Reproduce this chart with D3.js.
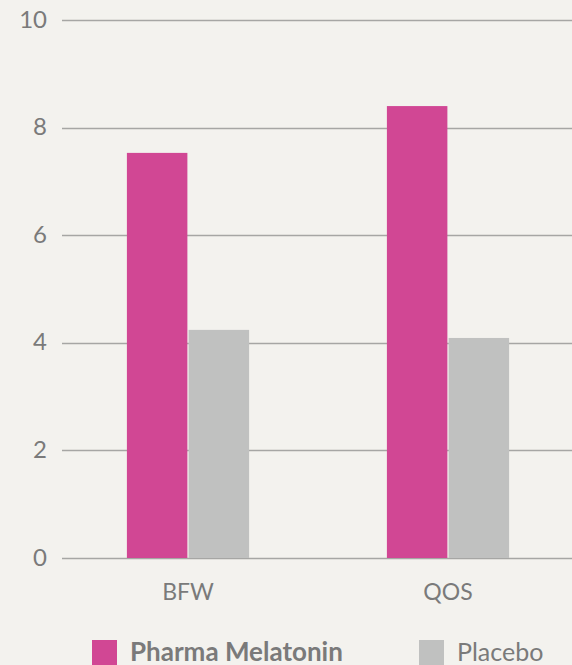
<!DOCTYPE html>
<html>
<head>
<meta charset="utf-8">
<script src="https://cdn.jsdelivr.net/npm/d3@7"></script>
<style>
  html, body { margin: 0; padding: 0; background: #f3f2ee; }
  svg { display: block; font-family: Lato, "Open Sans", sans-serif; }
</style>
</head>
<body>
<div id="chart"></div>
<script>
var categories = ["BFW", "QOS"];
var series = ["Pharma Melatonin", "Placebo"];
var melatonin = [7.53, 8.4];
var placebo = [4.24, 4.09];
var yTicks = [0, 2, 4, 6, 8, 10];

var width = 572;
var height = 665;
var colors = ["#d14794", "#c0c1c0"];

var svg = d3.select("#chart")
  .append("svg")
  .attr("width", width)
  .attr("height", height);

svg.append("rect")
  .attr("width", width)
  .attr("height", height)
  .attr("fill", "#f3f2ee");

var y = d3.scaleLinear()
  .domain([0, 10])
  .range([558, 20]);

var x = d3.scaleBand()
  .domain(categories)
  .range([58, 578])
  .paddingInner(0.53)
  .paddingOuter(0.265);

var x1 = d3.scaleBand()
  .domain(series)
  .range([0, x.bandwidth()])
  .paddingInner(0.02);

// grid lines + tick labels
var grid = svg.append("g");
grid.selectAll("line")
  .data(yTicks)
  .enter()
  .append("line")
  .attr("x1", 62)
  .attr("x2", width)
  .attr("y1", d => Math.round(y(d)) + 0.5)
  .attr("y2", d => Math.round(y(d)) + 0.5)
  .attr("stroke", "#a6a6a4")
  .attr("stroke-width", 1.5);

grid.selectAll("text")
  .data(yTicks)
  .enter()
  .append("text")
  .attr("x", 47)
  .attr("y", d => y(d) - 1)
  .attr("dy", "0.36em")
  .attr("text-anchor", "end")
  .attr("fill", "#7a7a7a")
  .attr("font-size", 24)
  .text(d => d);

// bars
var rows = categories.map((c, i) => ({ cat: c, values: [melatonin[i], placebo[i]] }));

var groups = svg.selectAll(".grp")
  .data(rows)
  .enter()
  .append("g")
  .attr("class", "grp")
  .attr("transform", d => "translate(" + x(d.cat) + ",0)");

groups.selectAll("rect")
  .data(d => d.values.map((v, i) => ({ key: series[i], value: v, i: i })))
  .enter()
  .append("rect")
  .attr("x", d => x1(d.key))
  .attr("width", x1.bandwidth())
  .attr("y", d => y(d.value))
  .attr("height", d => y(0) - y(d.value))
  .attr("fill", d => colors[d.i]);

// category labels
svg.selectAll(".cat")
  .data(categories)
  .enter()
  .append("text")
  .attr("class", "cat")
  .attr("x", d => x(d) + x.bandwidth() / 2)
  .attr("y", 600)
  .attr("text-anchor", "middle")
  .attr("fill", "#7a7a7a")
  .attr("font-size", 23)
  .text(d => d);

// legend
var legendX = [92, 419];
var legend = svg.selectAll(".leg")
  .data(series)
  .enter()
  .append("g")
  .attr("class", "leg")
  .attr("transform", (d, i) => "translate(" + legendX[i] + ",640)");

legend.append("rect")
  .attr("width", 25)
  .attr("height", 25)
  .attr("fill", (d, i) => colors[i]);

legend.append("text")
  .attr("x", 38)
  .attr("y", 21)
  .attr("fill", "#7a7a7a")
  .attr("font-size", (d, i) => i === 0 ? 26 : 25)
  .attr("font-weight", (d, i) => i === 0 ? "bold" : "normal")
  .text(d => d);
</script>
</body>
</html>
